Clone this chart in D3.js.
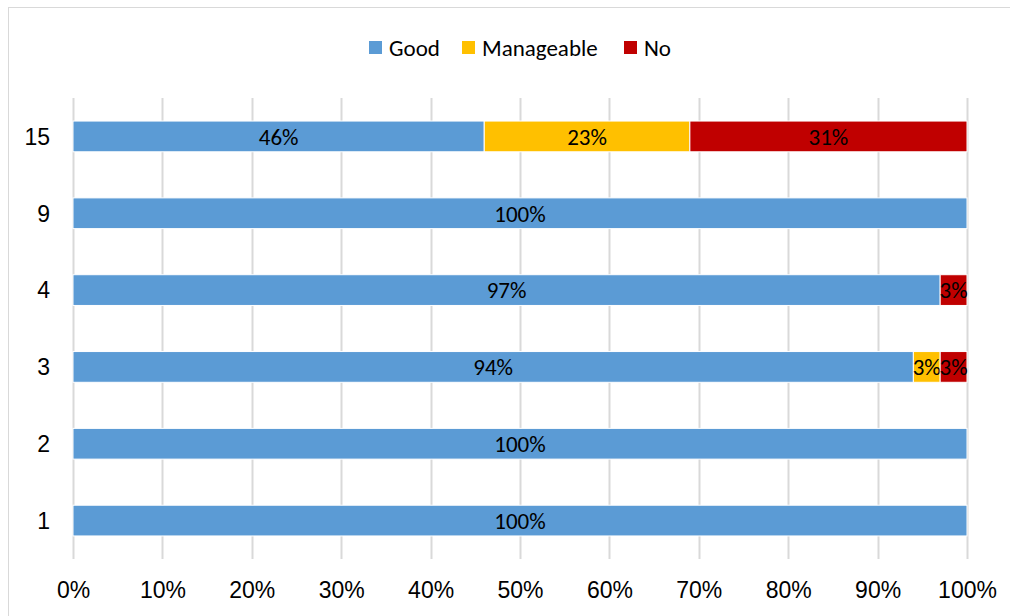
<!DOCTYPE html>
<html>
<head>
<meta charset="utf-8">
<script src="https://cdn.jsdelivr.net/npm/d3@7"></script>
<style>
  html, body { margin: 0; padding: 0; background: #fff; }
  svg { display: block; font-family: Carlito, Calibri, Lato, "Open Sans", sans-serif; }
</style>
</head>
<body>
<svg id="chart" width="1010" height="616"></svg>
<script>
// Groups, bottom to top as listed
const categories = ["1", "2", "3", "4", "9", "15"];
const seriesNames = ["Good", "Manageable", "No"];
const good       = [100, 100, 94, 97, 100, 46];
const manageable = [0, 0, 3, 0, 0, 23];
const no         = [0, 0, 3, 3, 0, 31];
const tickValues = [0, 10, 20, 30, 40, 50, 60, 70, 80, 90, 100];
const colors = ["#5b9bd5", "#ffc000", "#c00000"];

const svg = d3.select("#chart");
const margin = { left: 73, right: 43, top: 98, bottom: 57 };
const W = 1010, H = 616;
const FS = 23;

// outer frame
svg.append("rect")
  .attr("x", 8.5).attr("y", 7.5)
  .attr("width", 1010).attr("height", 620)
  .attr("fill", "none").attr("stroke", "#d9d9d9").attr("stroke-width", 1);

const x = d3.scaleLinear().domain([0, 100]).range([margin.left, W - margin.right]);
const y = d3.scaleBand()
  .domain(categories.slice().reverse())
  .range([margin.top, H - margin.bottom])
  .paddingInner(0.6).paddingOuter(0.3);

// gridlines
svg.append("g")
  .selectAll("line")
  .data(tickValues)
  .join("line")
  .attr("x1", d => Math.round(x(d)) + 0.5)
  .attr("x2", d => Math.round(x(d)) + 0.5)
  .attr("y1", margin.top)
  .attr("y2", H - margin.bottom)
  .attr("stroke", "#d9d9d9")
  .attr("stroke-width", 2);

// stacked data
const rows = categories.map((c, i) => ({ cat: c, Good: good[i], Manageable: manageable[i], No: no[i] }));
const stacked = d3.stack().keys(seriesNames)(rows);

const layers = svg.append("g")
  .selectAll("g")
  .data(stacked)
  .join("g")
  .attr("fill", (d, i) => colors[i]);

layers.selectAll("rect")
  .data(d => d.filter(s => s[1] - s[0] > 0))
  .join("rect")
  .attr("x", d => x(d[0]))
  .attr("width", d => x(d[1]) - x(d[0]))
  .attr("y", d => y(d.data.cat))
  .attr("height", y.bandwidth())
  .attr("stroke", "#fff")
  .attr("stroke-width", 1);

// value labels
layers.selectAll("text")
  .data(d => d.filter(s => s[1] - s[0] > 0).map(s => ({ s, v: s[1] - s[0] })))
  .join("text")
  .attr("x", d => (x(d.s[0]) + x(d.s[1])) / 2)
  .attr("y", d => y(d.s.data.cat) + y.bandwidth() / 2)
  .attr("dy", "0.36em")
  .attr("text-anchor", "middle")
  .attr("fill", "#000")
  .attr("font-size", FS)
  .text(d => d.v + "%");

// category axis (labels only)
const yAxis = svg.append("g")
  .attr("transform", `translate(${margin.left - 23},0)`)
  .call(d3.axisLeft(y).tickSize(0).tickPadding(0));
yAxis.select(".domain").remove();
yAxis.selectAll("text").attr("font-size", FS).attr("fill", "#000").attr("font-family", null).attr("dy", "0.36em");

// value axis (labels only)
const xAxis = svg.append("g")
  .attr("transform", `translate(0,590)`)
  .call(d3.axisBottom(x).tickValues(tickValues).tickFormat(d => d + "%").tickSize(0).tickPadding(0));
xAxis.select(".domain").remove();
xAxis.selectAll("text").attr("font-size", FS).attr("fill", "#000").attr("font-family", null)
  .attr("y", 0).attr("dy", "0.36em");

// legend
const legendX = [369, 462, 624];
const legend = svg.append("g")
  .selectAll("g")
  .data(seriesNames)
  .join("g")
  .attr("transform", (d, i) => `translate(${legendX[i]},41)`);
legend.append("rect")
  .attr("width", 13).attr("height", 13)
  .attr("fill", (d, i) => colors[i]);
legend.append("text")
  .attr("x", 20).attr("y", 6.5).attr("dy", "0.36em")
  .attr("font-size", FS).attr("fill", "#000")
  .text(d => d);
</script>
</body>
</html>
